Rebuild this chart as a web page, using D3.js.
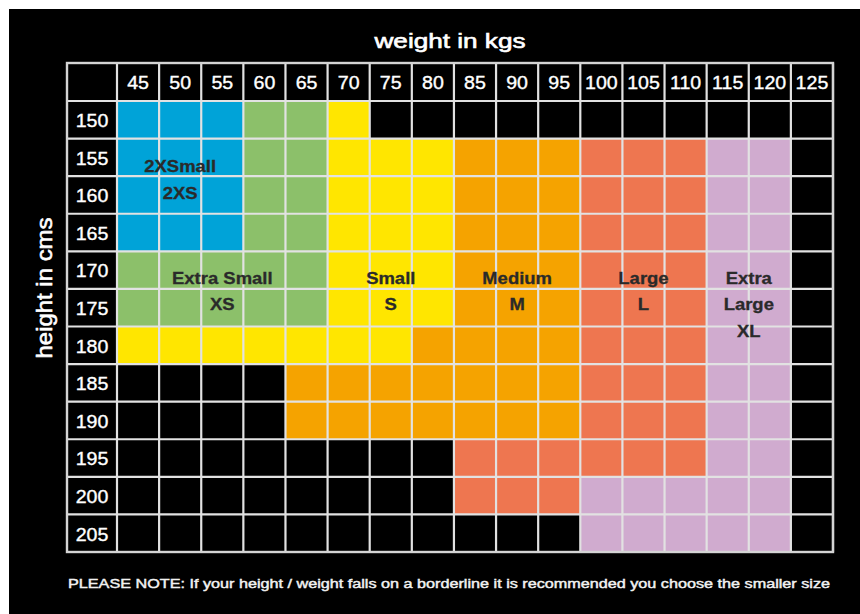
<!DOCTYPE html>
<html>
<head>
<meta charset="utf-8">
<script src="https://cdn.jsdelivr.net/npm/d3@7"></script>
<style>
  html, body { margin: 0; padding: 0; background: #fff; }
  svg { display: block; }
  text { font-family: "Liberation Sans", Arial, Helvetica, sans-serif; }
</style>
</head>
<body>
<svg id="chart" width="860" height="614"></svg>
<script>
// ---- data ----
const weights = [45, 50, 55, 60, 65, 70, 75, 80, 85, 90, 95, 100, 105, 110, 115, 120, 125];
const heights = [150, 155, 160, 165, 170, 175, 180, 185, 190, 195, 200, 205];
const sizeNames = ["2XS", "XS", "S", "M", "L", "XL"];
const sizeColors = ["#00a3d8", "#8cc06a", "#ffe600", "#f5a300", "#ee7650", "#d0abcf"];
// one string per height row, one character per weight column:
// 0=2XS 1=XS 2=S 3=M 4=L 5=XL, "-" = no size
const sizeGrid = [
  "000112-----------",
  "0001122233344455-",
  "0001122233344455-",
  "0001122233344455-",
  "1111122233344455-",
  "1111122233344455-",
  "2222222333344455-",
  "----333333344455-",
  "----333333344455-",
  "--------44444455-",
  "--------44455555-",
  "-----------55555-"
];
const labelLines = [["2XSmall", "2XS"], ["Extra Small", "XS"], ["Small", "S"], ["Medium", "M"], ["Large", "L"], ["Extra", "Large", "XL"]];
const labelWeights = [50, 55, 75, 90, 105, 117.5];
const labelHeights = [156.2, 171, 171, 171, 171, 171];
const xTitle = "weight in kgs";
const yTitle = "height in cms";
const noteText = "PLEASE NOTE: If your height / weight falls on a borderline it is recommended you choose the smaller size";

// ---- layout ----
const svg = d3.select("#chart");
svg.append("rect").attr("x", 9).attr("y", 9).attr("width", 851).attr("height", 605).attr("fill", "#000");

const gridL = 67, gridT = 63, headW = 50, headH = 38, gridR = 833, gridB = 552;
const stretch = 1.12;
const x = d3.scaleLinear()
  .domain([weights[0] - 2.5, weights[weights.length - 1] + 2.5])
  .range([gridL + headW, gridR]);
const y = d3.scaleLinear()
  .domain([heights[0] - 2.5, heights[heights.length - 1] + 2.5])
  .range([gridT + headH, gridB]);
const color = d3.scaleOrdinal().domain(d3.range(sizeNames.length)).range(sizeColors);

// cells
const cells = heights.flatMap((h, i) => weights.map((w, j) => ({ h, w, c: sizeGrid[i][j] })))
  .filter(d => d.c !== "-");
svg.append("g").selectAll("rect").data(cells).join("rect")
  .attr("x", d => x(d.w - 2.5))
  .attr("y", d => y(d.h - 2.5))
  .attr("width", d => x(d.w + 2.5) - x(d.w - 2.5))
  .attr("height", d => y(d.h + 2.5) - y(d.h - 2.5))
  .attr("fill", d => color(+d.c));

// grid lines
const lineColor = "#e2e2e2";
const gl = svg.append("g").attr("stroke", lineColor).attr("stroke-width", 2.2);
const vx = [gridL + headW].concat(weights.map(w => x(w + 2.5)));
gl.selectAll("line.v").data(vx).join("line").attr("class", "v")
  .attr("x1", d => d).attr("x2", d => d).attr("y1", gridT).attr("y2", gridB);
const hy = [gridT + headH].concat(heights.map(h => y(h + 2.5)));
gl.selectAll("line.h").data(hy).join("line").attr("class", "h")
  .attr("y1", d => d).attr("y2", d => d).attr("x1", gridL).attr("x2", gridR);
svg.append("rect").attr("x", gridL).attr("y", gridT).attr("width", gridR - gridL).attr("height", gridB - gridT)
  .attr("fill", "none").attr("stroke", "#d4d4d4").attr("stroke-width", 2.4);

// tick labels
const numSize = 17.5;
svg.append("g").selectAll("text").data(weights).join("text")
  .attr("transform", d => `translate(${x(d)},${gridT + headH / 2 + numSize * 0.36 + 1}) scale(${stretch},1)`)
  .attr("text-anchor", "middle")
  .attr("font-size", numSize)
  .attr("fill", "#fff").attr("stroke", "#fff").attr("stroke-width", 0.35)
  .text(d => d);
svg.append("g").selectAll("text").data(heights).join("text")
  .attr("transform", d => `translate(${gridL + headW / 2},${y(d) + numSize * 0.36 + 1}) scale(${stretch},1)`)
  .attr("text-anchor", "middle")
  .attr("font-size", numSize)
  .attr("fill", "#fff").attr("stroke", "#fff").attr("stroke-width", 0.35)
  .text(d => d);

// size labels
const lblSize = 16.5, lineGap = 26.5;
const lg = svg.append("g");
labelLines.forEach((lines, k) => {
  lines.forEach((t, i) => {
    lg.append("text")
      .attr("transform", `translate(${x(labelWeights[k])},${y(labelHeights[k]) + i * lineGap + lblSize * 0.36}) scale(${stretch},1)`)
      .attr("text-anchor", "middle")
      .attr("font-size", lblSize)
      .attr("font-weight", "bold")
      .attr("fill", "#2a2a2a").attr("stroke", "#2a2a2a").attr("stroke-width", 0.3)
      .text(t);
  });
});

// titles
svg.append("text")
  .attr("x", (gridL + gridR) / 2 - 75.5).attr("y", 48)
  .attr("textLength", 151).attr("lengthAdjust", "spacingAndGlyphs")
  .attr("font-size", 20).attr("fill", "#fff").attr("stroke", "#fff").attr("stroke-width", 0.6)
  .text(xTitle);
svg.append("text")
  .attr("transform", `translate(52,288) scale(${stretch},1) rotate(-90)`)
  .attr("x", -70.5).attr("y", 0)
  .attr("textLength", 141).attr("lengthAdjust", "spacingAndGlyphs")
  .attr("font-size", 20).attr("fill", "#fff").attr("stroke", "#fff").attr("stroke-width", 0.5)
  .text(yTitle);

// note
svg.append("text")
  .attr("x", gridL + 1).attr("y", 588)
  .attr("textLength", 762).attr("lengthAdjust", "spacingAndGlyphs")
  .attr("font-size", 13.5).attr("fill", "#f2f2f2").attr("stroke", "#f2f2f2").attr("stroke-width", 0.45)
  .text(noteText);
</script>
</body>
</html>
